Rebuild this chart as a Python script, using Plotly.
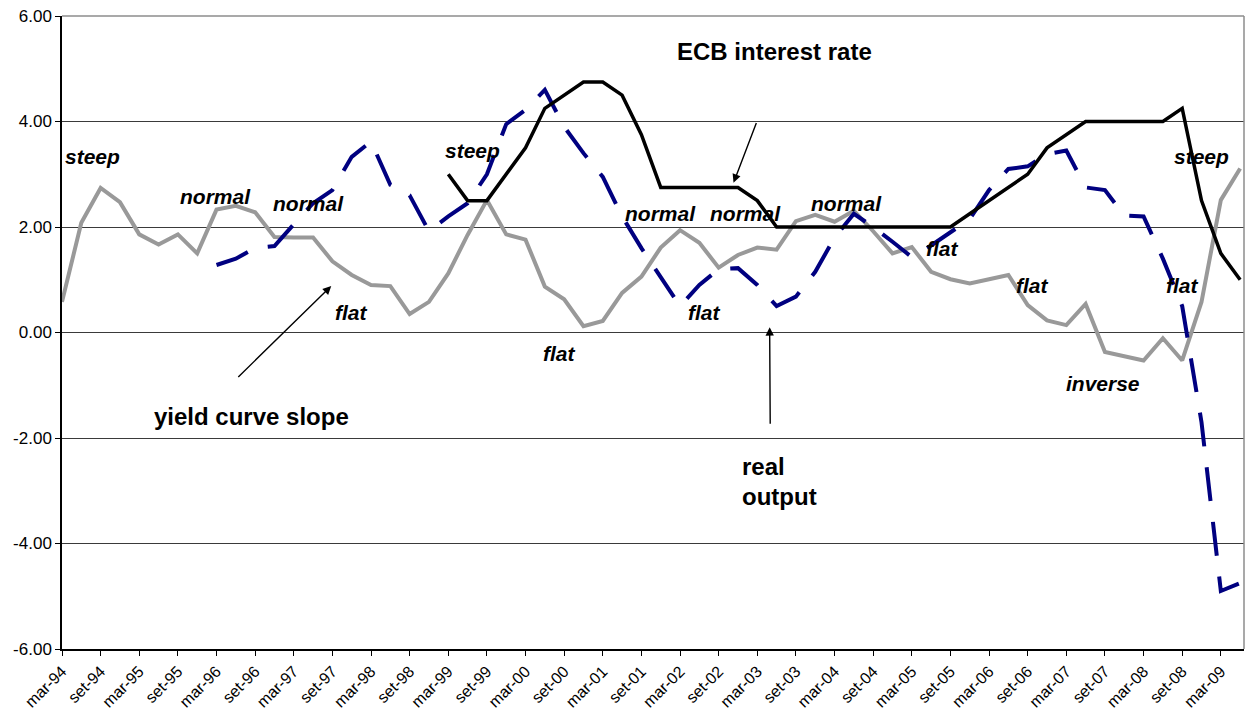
import plotly.graph_objects as go

# ---------------- data ----------------
months = ["mar", "giu", "set", "dic"]
years = list(range(1994, 2010))
quarters = [f"{m}-{str(y)[2:]}" for y in years for m in months][:62]  # mar-94 .. giu-09

tick_labels = ["mar-94", "set-94", "mar-95", "set-95", "mar-96", "set-96", "mar-97", "set-97",
               "mar-98", "set-98", "mar-99", "set-99", "mar-00", "set-00", "mar-01", "set-01",
               "mar-02", "set-02", "mar-03", "set-03", "mar-04", "set-04", "mar-05", "set-05",
               "mar-06", "set-06", "mar-07", "set-07", "mar-08", "set-08", "mar-09"]

yield_curve_slope = [0.58, 2.08, 2.74, 2.47, 1.86, 1.67, 1.86, 1.50, 2.33, 2.40,
                     2.28, 1.81, 1.80, 1.80, 1.35, 1.09, 0.90, 0.88, 0.35, 0.58,
                     1.12, 1.85, 2.51, 1.86, 1.76, 0.87, 0.63, 0.12, 0.22, 0.75,
                     1.06, 1.61, 1.94, 1.70, 1.23, 1.47, 1.61, 1.57, 2.11, 2.23,
                     2.10, 2.31, 1.92, 1.50, 1.62, 1.15, 1.01, 0.93, 1.01, 1.09,
                     0.52, 0.23, 0.14, 0.54, -0.37, -0.45, -0.53, -0.11, -0.53, 0.58,
                     2.51, 3.11]

real_output = [None] * 8 + [1.28, 1.40,
               1.60, 1.64, 2.05, 2.45, 2.70, 3.33, 3.62, 2.80, 2.60, 1.92,
               2.20, 2.45, 3.00, 3.95, 4.22, 4.60, 3.90, 3.40, 2.95, 2.20,
               1.60, 1.05, 0.50, 0.90, 1.20, 1.22, 0.90, 0.50, 0.68, 1.15,
               1.80, 2.25, 2.00, 1.72, 1.43, 1.65, 1.90, 2.15, 2.70, 3.10,
               3.15, 3.38, 3.45, 2.75, 2.70, 2.22, 2.20, 1.40, 0.50, -1.70,
               -4.90, -4.75]

ecb_rate = [None] * 20 + [3.00, 2.50, 2.50, 3.00, 3.50, 4.25, 4.50, 4.75, 4.75, 4.50,
            3.75, 2.75, 2.75, 2.75, 2.75, 2.75, 2.50, 2.00, 2.00, 2.00,
            2.00, 2.00, 2.00, 2.00, 2.00, 2.00, 2.00, 2.25, 2.50, 2.75,
            3.00, 3.50, 3.75, 4.00, 4.00, 4.00, 4.00, 4.00, 4.25, 2.50,
            1.50, 1.00]

y_ticks = [-6, -4, -2, 0, 2, 4, 6]

# regime labels: (text, x index, y value)
regime_labels = [
    ("steep", 1.56, 3.34), ("normal", 7.93, 2.57), ("normal", 12.77, 2.45),
    ("flat", 14.97, 0.38), ("flat", 25.76, -0.39), ("steep", 21.26, 3.45),
    ("normal", 30.99, 2.26), ("normal", 35.40, 2.26), ("flat", 33.27, 0.38),
    ("normal", 40.62, 2.45), ("flat", 45.60, 1.60), ("flat", 50.26, 0.90),
    ("flat", 58.03, 0.90), ("steep", 58.98, 3.33), ("inverse", 53.88, -0.96),
]

x = list(range(len(quarters)))
FONT = "Liberation Sans, Arial, sans-serif"

fig = go.Figure()
fig.add_trace(go.Scatter(x=x, y=yield_curve_slope, mode="lines", name="yield curve slope",
                         line=dict(color="#999999", width=4)))
fig.add_trace(go.Scatter(x=x, y=real_output, mode="lines", name="real output",
                         line=dict(color="#000080", width=4, dash="34px,21px")))
fig.add_trace(go.Scatter(x=x, y=ecb_rate, mode="lines", name="ECB interest rate",
                         line=dict(color="#000000", width=3.5)))

ann = []
for txt, ax_, ay_ in regime_labels:
    ann.append(dict(x=ax_, y=ay_, xref="x", yref="y", text=f"<b><i>{txt}</i></b>",
                    showarrow=False, font=dict(family=FONT, size=21, color="black"),
                    xanchor="center", yanchor="middle"))

ann.append(dict(x=36.87, y=5.33, xref="x", yref="y", text="<b>ECB interest rate</b>",
                showarrow=False, font=dict(family=FONT, size=24, color="black")))
ann.append(dict(x=9.79, y=-1.60, xref="x", yref="y", text="<b>yield curve slope</b>",
                showarrow=False, font=dict(family=FONT, size=24, color="black")))
ann.append(dict(x=35.12, y=-2.54, xref="x", yref="y", text="<b>real</b>", xanchor="left",
                showarrow=False, font=dict(family=FONT, size=24, color="black")))
ann.append(dict(x=35.12, y=-3.11, xref="x", yref="y", text="<b>output</b>", xanchor="left",
                showarrow=False, font=dict(family=FONT, size=24, color="black")))

# arrows (head, tail)
arrows = [((13.94, 0.88), (9.05, -0.87)),
          ((34.77, 2.84), (35.98, 4.00)),
          ((36.64, 0.10), (36.67, -1.76))]
for (hx, hy), (tx, ty) in arrows:
    ann.append(dict(x=hx, y=hy, ax=tx, ay=ty, xref="x", yref="y", axref="x", ayref="y",
                    text="", showarrow=True, arrowhead=2, arrowsize=1.2, arrowwidth=1.4,
                    arrowcolor="black", standoff=0))

fig.update_layout(
    width=1245, height=719,
    margin=dict(l=62, r=1, t=16, b=70, autoexpand=False),
    paper_bgcolor="white", plot_bgcolor="white",
    showlegend=False,
    font=dict(family=FONT, color="black"),
    annotations=ann,
    shapes=[
        dict(type="line", xref="paper", yref="paper", x0=0, x1=1, y0=1, y1=1,
             line=dict(color="#8c8c8c", width=1.5), layer="above"),
        dict(type="line", xref="paper", yref="paper", x0=1, x1=1, y0=0, y1=1,
             line=dict(color="#8c8c8c", width=1.5), layer="above"),
    ],
)
fig.update_xaxes(range=[0, 61.2], tickmode="array", automargin=False,
                 tickvals=list(range(0, 61, 2)), ticktext=tick_labels,
                 tickangle=-45, tickfont=dict(family=FONT, size=16, color="black"),
                 ticks="outside", ticklen=5, tickcolor="black", tickwidth=1,
                 showline=True, linecolor="black", linewidth=1.5,
                 showgrid=False, zeroline=False)
fig.update_yaxes(range=[-6, 6], tickmode="array", tickvals=y_ticks, automargin=False,
                 ticktext=[f"{v:.2f}" for v in y_ticks],
                 tickfont=dict(family=FONT, size=17, color="black"),
                 ticks="outside", ticklen=5, tickcolor="black", tickwidth=1,
                 showline=True, linecolor="black", linewidth=1.5,
                 showgrid=True, gridcolor="#3a3a3a", gridwidth=1, zeroline=False)

fig.write_html(
    "out.html",
    config={"displayModeBar": False},
    post_script="document.body.style.margin='0';document.body.style.overflow='hidden';",
)
